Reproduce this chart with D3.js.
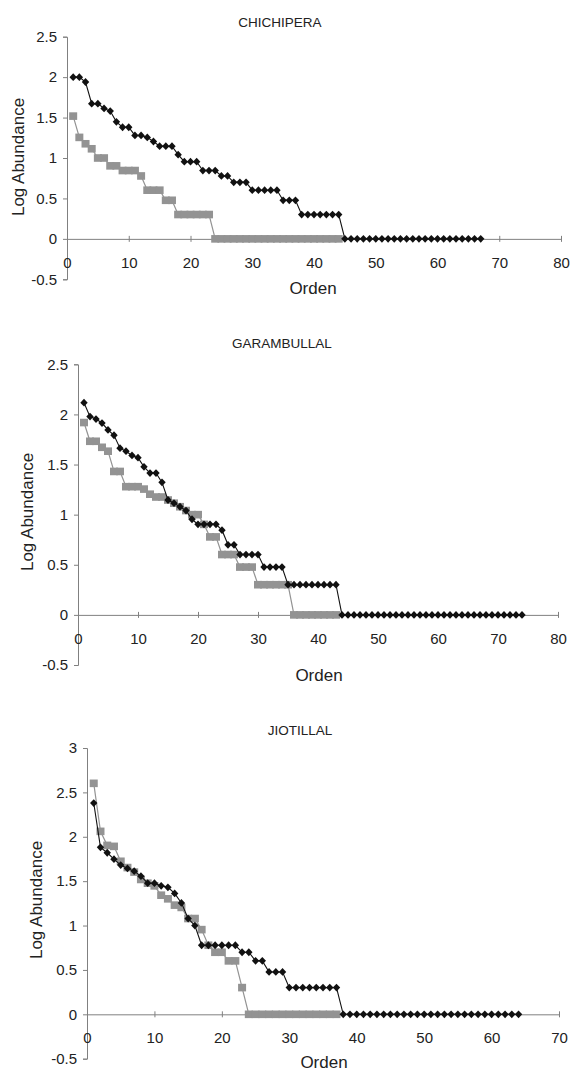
<!DOCTYPE html>
<html>
<head>
<meta charset="utf-8">
<script src="https://cdn.jsdelivr.net/npm/d3@7"></script>
<style>
  html, body { margin: 0; padding: 0; background: #fff; }
  svg { display: block; }
  text { font-family: "Liberation Sans", Arial, sans-serif; fill: #222; }
</style>
</head>
<body>
<svg id="chart" width="573" height="1078"></svg>
<script>
// ---------- DATA ----------
const panelTitles = ["CHICHIPERA", "GARAMBULLAL", "JIOTILLAL"];
const yAxisTitle = "Log Abundance";
const xAxisTitle = "Orden";

const chichiperaBlack = [2.0, 2.0, 1.94, 1.672, 1.672, 1.613, 1.58, 1.447, 1.38, 1.38,
  1.279, 1.279, 1.255, 1.204, 1.146, 1.146, 1.146, 1.041, 0.954, 0.954,
  0.954, 0.845, 0.845, 0.845, 0.778, 0.778, 0.699, 0.699, 0.699,
  0.602, 0.602, 0.602, 0.602, 0.602, 0.477, 0.477, 0.477,
  0.301, 0.301, 0.301, 0.301, 0.301, 0.301, 0.301,
  0, 0, 0, 0, 0, 0, 0, 0, 0, 0, 0, 0, 0, 0, 0, 0, 0, 0, 0, 0, 0, 0, 0];
const chichiperaGray = [1.518, 1.255, 1.176, 1.114, 1.0, 1.0, 0.903, 0.903, 0.845, 0.845,
  0.845, 0.778, 0.602, 0.602, 0.602, 0.477, 0.477,
  0.301, 0.301, 0.301, 0.301, 0.301, 0.301,
  0, 0, 0, 0, 0, 0, 0, 0, 0, 0, 0, 0, 0, 0, 0, 0, 0, 0, 0, 0, 0];

const garambullalBlack = [2.117, 1.978, 1.954, 1.914, 1.845, 1.792, 1.663, 1.633, 1.591, 1.568,
  1.477, 1.415, 1.415, 1.322, 1.146, 1.114, 1.079, 1.041, 0.954, 0.903,
  0.903, 0.903, 0.903, 0.845, 0.699, 0.699, 0.602, 0.602, 0.602, 0.602,
  0.477, 0.477, 0.477, 0.477,
  0.301, 0.301, 0.301, 0.301, 0.301, 0.301, 0.301, 0.301, 0.301,
  0, 0, 0, 0, 0, 0, 0, 0, 0, 0, 0, 0, 0, 0, 0, 0, 0, 0, 0, 0, 0, 0, 0, 0, 0, 0, 0, 0, 0, 0, 0];
const garambullalGray = [1.919, 1.732, 1.732, 1.672, 1.633, 1.431, 1.431, 1.279, 1.279, 1.279,
  1.255, 1.204, 1.176, 1.176, 1.146, 1.114, 1.079, 1.041, 1.0, 1.0,
  0.903, 0.778, 0.778, 0.602, 0.602, 0.602, 0.477, 0.477, 0.477,
  0.301, 0.301, 0.301, 0.301, 0.301, 0.301,
  0, 0, 0, 0, 0, 0, 0, 0];

const jiotillalBlack = [2.38, 1.881, 1.82, 1.748, 1.681, 1.643, 1.613, 1.556, 1.477, 1.477,
  1.447, 1.431, 1.362, 1.255, 1.079, 1.0,
  0.778, 0.778, 0.778, 0.778, 0.778, 0.778, 0.699, 0.699, 0.602, 0.602,
  0.477, 0.477, 0.477,
  0.301, 0.301, 0.301, 0.301, 0.301, 0.301, 0.301, 0.301,
  0, 0, 0, 0, 0, 0, 0, 0, 0, 0, 0, 0, 0, 0, 0, 0, 0, 0, 0, 0, 0, 0, 0, 0, 0, 0, 0];
const jiotillalGray = [2.602, 2.061, 1.903, 1.892, 1.724, 1.653, 1.602, 1.519, 1.477, 1.447,
  1.342, 1.301, 1.230, 1.204, 1.079, 1.079, 0.954, 0.778, 0.699, 0.699,
  0.602, 0.602, 0.301,
  0, 0, 0, 0, 0, 0, 0, 0, 0, 0, 0, 0, 0, 0];

const xTicks12 = [0, 10, 20, 30, 40, 50, 60, 70, 80];
const xTicks3 = [0, 10, 20, 30, 40, 50, 60, 70];
const yTicks12 = [-0.5, 0, 0.5, 1, 1.5, 2, 2.5];
const yTicks3 = [-0.5, 0, 0.5, 1, 1.5, 2, 2.5, 3];

// ---------- LAYOUT (positions only) ----------
const panels = [
  { title: panelTitles[0], black: chichiperaBlack, gray: chichiperaGray,
    xDomain: [0, 80], xRange: [67, 561], yDomain: [-0.5, 2.5], yRange: [279.3, 36.7],
    xTicks: xTicks12, yTicks: yTicks12,
    titlePos: [280, 27], ylabPos: [18.5, 157], xlabPos: [313, 294] },
  { title: panelTitles[1], black: garambullalBlack, gray: garambullalGray,
    xDomain: [0, 80], xRange: [78, 558], yDomain: [-0.5, 2.5], yRange: [665, 364.3],
    xTicks: xTicks12, yTicks: yTicks12,
    titlePos: [282, 348], ylabPos: [27.5, 512], xlabPos: [319, 681] },
  { title: panelTitles[2], black: jiotillalBlack, gray: jiotillalGray,
    xDomain: [0, 70], xRange: [87, 559], yDomain: [-0.5, 3], yRange: [1058.7, 748],
    xTicks: xTicks3, yTicks: yTicks3,
    titlePos: [300, 735], ylabPos: [36, 900], xlabPos: [324, 1068] }
];

const svg = d3.select("#chart");
const axisColor = "#808080";
const grayColor = "#939393";
const fmt = v => (v === 0 ? "0" : String(v));

panels.forEach(p => {
  const x = d3.scaleLinear().domain(p.xDomain).range(p.xRange);
  const y = d3.scaleLinear().domain(p.yDomain).range(p.yRange);
  const g = svg.append("g");

  // y axis
  const ya = g.append("g")
    .attr("transform", `translate(${p.xRange[0]},0)`)
    .call(d3.axisLeft(y).tickValues(p.yTicks).tickFormat(fmt).tickSize(4).tickPadding(6));
  ya.select(".domain").attr("stroke", axisColor);
  ya.selectAll(".tick line").attr("stroke", axisColor);
  ya.selectAll(".tick text").style("font-size", "15px").attr("fill", "#2a2a2a")
    .style("font-family", "'Liberation Sans', Arial, sans-serif");

  // x axis at y = 0
  const xa = g.append("g")
    .attr("transform", `translate(0,${y(0)})`)
    .call(d3.axisBottom(x).tickValues(p.xTicks).tickFormat(fmt).tickSizeOuter(0).tickSizeInner(3).tickPadding(15));
  xa.select(".domain").attr("stroke", axisColor);
  xa.selectAll(".tick line").attr("stroke", axisColor).attr("y1", -3);
  xa.selectAll(".tick text").style("font-size", "15px").attr("fill", "#2a2a2a")
    .style("font-family", "'Liberation Sans', Arial, sans-serif");

  const line = d3.line().x((d, i) => x(i + 1)).y(d => y(d));

  // gray series
  g.append("path").datum(p.gray).attr("d", line)
    .attr("fill", "none").attr("stroke", grayColor).attr("stroke-width", 1.2);
  g.append("g").selectAll("rect").data(p.gray).join("rect")
    .attr("x", (d, i) => x(i + 1) - 4).attr("y", d => y(d) - 3.8)
    .attr("width", 8).attr("height", 7.6).attr("fill", grayColor);

  // black series
  g.append("path").datum(p.black).attr("d", line)
    .attr("fill", "none").attr("stroke", "#111").attr("stroke-width", 1.1);
  g.append("g").selectAll("path").data(p.black).join("path")
    .attr("transform", (d, i) => `translate(${x(i + 1)},${y(d)})`)
    .attr("d", "M0,-3.9L3.7,0L0,3.9L-3.7,0Z").attr("fill", "#111");

  // titles
  g.append("text").attr("x", p.titlePos[0]).attr("y", p.titlePos[1])
    .attr("text-anchor", "middle").style("font-size", "13.5px").text(p.title);
  g.append("text")
    .attr("transform", `translate(${p.ylabPos[0]},${p.ylabPos[1]}) rotate(-90)`)
    .attr("text-anchor", "middle").attr("dy", "0.35em")
    .style("font-size", "17px").text(yAxisTitle);
  g.append("text").attr("x", p.xlabPos[0]).attr("y", p.xlabPos[1])
    .attr("text-anchor", "middle").style("font-size", "17px").text(xAxisTitle);
});
</script>
</body>
</html>
